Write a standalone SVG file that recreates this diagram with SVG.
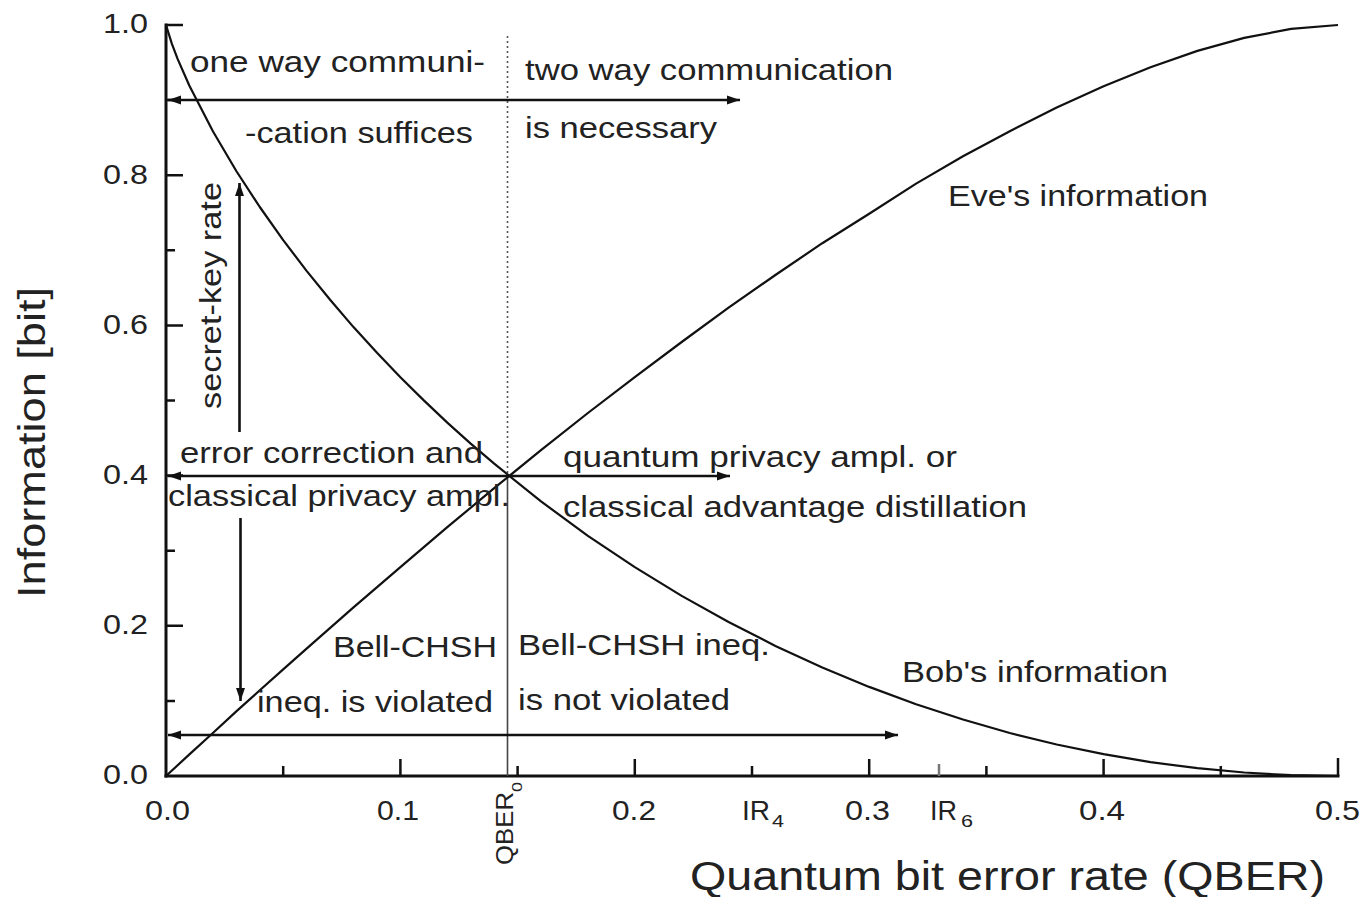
<svg xmlns="http://www.w3.org/2000/svg" width="1364" height="897" viewBox="0 0 1364 897">
<style>
  .ax{stroke:#111;stroke-width:3;fill:none;stroke-linecap:square}
  .tk{stroke:#111;stroke-width:2.5;fill:none}
  .crv{stroke:#111;stroke-width:2.2;fill:none;stroke-linejoin:round}
  .arr{stroke:#111;stroke-width:2.6;fill:none}
  .t{font-family:"Liberation Sans",Arial,sans-serif;fill:#222}
  .a{font-size:29px}
  .n{font-size:28px}
</style>
<defs>
  <marker id="ah" markerUnits="userSpaceOnUse" markerWidth="14" markerHeight="10" refX="13" refY="5" orient="auto-start-reverse">
    <path d="M0,0.5 L13,5 L0,9.5 z" fill="#111"/>
  </marker>
</defs>
<rect width="1364" height="897" fill="#fff"/>

<g id="axes">
  <line class="ax" x1="166" y1="25" x2="166" y2="776"/>
  <line class="ax" x1="166" y1="776" x2="1338" y2="776"/>
  <path class="tk" d="M166,25H183 M166,175.2H183 M166,325.4H183 M166,475.6H183 M166,625.8H183
    M166,100.1H175 M166,250.3H175 M166,400.5H175 M166,550.7H175 M166,700.9H175"/>
  <path class="tk" d="M400.4,776V759 M634.8,776V759 M869.2,776V759 M1103.6,776V759 M1338,776V758
    M283.2,776V766 M517.6,776V766 M752,776V766 M986.4,776V766 M1220.8,776V766"/>
  <path d="M939,776V764" stroke="#777" stroke-width="2.5"/>
</g>

<g id="tick-labels" class="t n">
  <g text-anchor="end">
    <text x="148" y="33" textLength="45" lengthAdjust="spacingAndGlyphs">1.0</text>
    <text x="148" y="184" textLength="45" lengthAdjust="spacingAndGlyphs">0.8</text>
    <text x="148" y="334" textLength="45" lengthAdjust="spacingAndGlyphs">0.6</text>
    <text x="148" y="484" textLength="45" lengthAdjust="spacingAndGlyphs">0.4</text>
    <text x="148" y="634" textLength="45" lengthAdjust="spacingAndGlyphs">0.2</text>
    <text x="148" y="784" textLength="45" lengthAdjust="spacingAndGlyphs">0.0</text>
  </g>
  <text x="145" y="820" textLength="45" lengthAdjust="spacingAndGlyphs">0.0</text>
  <text x="377" y="820" textLength="42" lengthAdjust="spacingAndGlyphs">0.1</text>
  <text x="612" y="820" textLength="44" lengthAdjust="spacingAndGlyphs">0.2</text>
  <text x="845" y="820" textLength="45" lengthAdjust="spacingAndGlyphs">0.3</text>
  <text x="1079" y="820" textLength="46" lengthAdjust="spacingAndGlyphs">0.4</text>
  <text x="1315" y="820" textLength="45" lengthAdjust="spacingAndGlyphs">0.5</text>
  <text x="742" y="820" textLength="28" lengthAdjust="spacingAndGlyphs">IR</text>
  <text x="772" y="827" font-size="16" textLength="12" lengthAdjust="spacingAndGlyphs">4</text>
  <text x="930" y="820" textLength="27" lengthAdjust="spacingAndGlyphs">IR</text>
  <text x="961" y="827" font-size="16" textLength="12" lengthAdjust="spacingAndGlyphs">6</text>
  <text transform="translate(513,865) rotate(-90)" font-size="24" textLength="73" lengthAdjust="spacingAndGlyphs">QBER</text>
  <text transform="translate(522,792) rotate(-90)" font-size="14" textLength="10" lengthAdjust="spacingAndGlyphs">0</text>
</g>

<g id="axis-titles" class="t">
  <text transform="translate(45,598) rotate(-90)" font-size="38" textLength="311" lengthAdjust="spacingAndGlyphs">Information [bit]</text>
  <text x="690" y="890" font-size="40" textLength="635" lengthAdjust="spacingAndGlyphs">Quantum bit error rate (QBER)</text>
</g>

<g id="qber0-line">
  <line x1="507.5" y1="36" x2="507.5" y2="475" stroke="#555" stroke-width="1.6" stroke-dasharray="2 3"/>
  <line x1="507.5" y1="475" x2="507.5" y2="776" stroke="#444" stroke-width="1.6"/>
</g>

<g id="bob-curve">
  <polyline class="crv" points="166,25 171.9,43.9 177.7,59.1 189.4,85.7 212.9,131.2 236.3,171.0 259.8,207.0 283.2,240.1 306.6,270.9 330.1,299.8 353.5,327.1 377.0,352.8 400.4,377.2 423.8,400.4 447.3,422.6 470.7,443.6 494.2,463.7 541.0,501.4 587.9,535.8 634.8,567.1 681.7,595.9 728.6,622.0 775.4,645.9 822.3,667.4 869.2,686.9 916.1,704.2 963.0,719.5 1009.8,733.0 1056.7,744.5 1103.6,754.2 1150.5,762.2 1197.4,768.2 1244.2,772.5 1291.1,775.2 1338,776"/>
</g>
<g id="eve-curve">
  <polyline class="crv" points="166,776 189.4,754.4 212.9,733.0 236.3,711.4 259.8,690.3 283.2,669.4 306.6,648.6 353.5,607.3 400.4,567.1 447.3,527.2 494.2,488.2 541.0,450.1 587.9,413.0 634.8,377.2 681.7,342.0 728.6,307.7 775.4,275.0 822.3,243.2 869.2,213.8 916.1,183.6 963.0,156.3 1009.8,131.2 1056.7,107.5 1103.6,86.2 1150.5,67.2 1197.4,50.9 1244.2,37.9 1291.1,28.8 1338,25"/>
</g>

<g id="connectors">
  <line class="arr" x1="168" y1="100" x2="740" y2="100" marker-start="url(#ah)" marker-end="url(#ah)"/>
  <line class="arr" x1="168" y1="476" x2="730" y2="476" marker-start="url(#ah)" marker-end="url(#ah)"/>
  <line class="arr" x1="168" y1="735" x2="898" y2="735" marker-start="url(#ah)" marker-end="url(#ah)"/>
  <line class="arr" x1="239.5" y1="432" x2="239.5" y2="183" marker-end="url(#ah)"/>
  <line class="arr" x1="240.5" y1="518" x2="240.5" y2="701" marker-end="url(#ah)"/>
</g>

<g id="labels" class="t a">
  <text x="190" y="72" textLength="295" lengthAdjust="spacingAndGlyphs">one way communi-</text>
  <text x="245" y="143" textLength="228" lengthAdjust="spacingAndGlyphs">-cation suffices</text>
  <text x="525" y="80" textLength="368" lengthAdjust="spacingAndGlyphs">two way communication</text>
  <text x="525" y="138" textLength="192" lengthAdjust="spacingAndGlyphs">is necessary</text>
  <text transform="translate(221,409) rotate(-90)" textLength="227" lengthAdjust="spacingAndGlyphs">secret-key rate</text>
  <text x="180" y="463" textLength="303" lengthAdjust="spacingAndGlyphs">error correction and</text>
  <text x="168" y="506" textLength="342" lengthAdjust="spacingAndGlyphs">classical privacy ampl.</text>
  <text x="563" y="467" textLength="394" lengthAdjust="spacingAndGlyphs">quantum privacy ampl. or</text>
  <text x="563" y="517" textLength="464" lengthAdjust="spacingAndGlyphs">classical advantage distillation</text>
  <text x="948" y="206" textLength="260" lengthAdjust="spacingAndGlyphs">Eve's information</text>
  <text x="902" y="682" textLength="266" lengthAdjust="spacingAndGlyphs">Bob's information</text>
  <text x="333" y="657" textLength="164" lengthAdjust="spacingAndGlyphs">Bell-CHSH</text>
  <text x="257" y="712" textLength="236" lengthAdjust="spacingAndGlyphs">ineq. is violated</text>
  <text x="518" y="655" textLength="252" lengthAdjust="spacingAndGlyphs">Bell-CHSH ineq.</text>
  <text x="518" y="710" textLength="212" lengthAdjust="spacingAndGlyphs">is not violated</text>
</g>
</svg>
